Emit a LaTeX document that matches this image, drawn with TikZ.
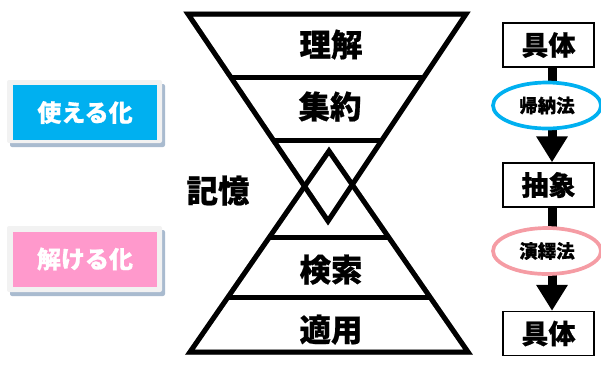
\documentclass[tikz,border=0pt]{standalone}
\usepackage{fontspec}
\newfontfamily\jp{Noto Sans CJK JP}[BoldFeatures={FakeBold=0.6}]
\usetikzlibrary{arrows.meta,shapes.geometric,calc}
\definecolor{cblue}{HTML}{00B0F0}
\definecolor{cpink}{HTML}{FF99CC}
\definecolor{cpinkline}{HTML}{F59CA4}
\definecolor{btnback}{HTML}{F2F2F2}
\definecolor{btnshadow}{HTML}{A9BBCF}
\definecolor{hgshadow}{HTML}{A8A8A8}
\tikzset{
  biglabel/.style={font=\jp\bfseries\fontsize{31.5}{31.5}\selectfont, text height=21pt, text depth=2pt, inner sep=0pt},
  stagebox/.style={draw=black, line width=1.4pt, minimum width=91pt, minimum height=44pt, inner sep=0pt,
    font=\jp\bfseries\fontsize{27}{27}\selectfont},
  methodell/.style={ellipse, line width=3.7pt, fill=white, minimum width=108pt, minimum height=46pt, inner sep=0pt,
    font=\jp\bfseries\fontsize{18.5}{18.5}\selectfont},
  flowarrow/.style={line width=9pt, -{Triangle[width=30pt,length=26pt]}},
  btn/.style={minimum width=144pt, minimum height=55pt, inner sep=0pt, text=white,
    font=\jp\bfseries\fontsize{24}{24}\selectfont}
}
\newcommand\hourglasslines{%
  \draw (TL) -- (TR) -- (TA) -- cycle;
  \draw (BA) -- (BL) -- (BR) -- cycle;
  \draw ($(TL)!0.309!(TA)$) -- ($(TR)!0.309!(TA)$);
  \draw ($(TL)!0.6087!(TA)$) -- ($(TR)!0.6087!(TA)$);
  \draw ($(BA)!0.428!(BL)$) -- ($(BA)!0.428!(BR)$);
  \draw ($(BA)!0.731!(BL)$) -- ($(BA)!0.731!(BR)$);
}
\begin{document}
\begin{tikzpicture}[x=1pt,y=-1pt]
\useasboundingbox (0,0) rectangle (601,365);
% hourglass
\coordinate (TL) at (188,14);
\coordinate (TR) at (466,14);
\coordinate (TA) at (328,221);
\coordinate (BA) at (329,151);
\coordinate (BL) at (190,352);
\coordinate (BR) at (468,352);
\begin{scope}[shift={(2,2)}, draw=hgshadow, line width=5pt]
  \hourglasslines
\end{scope}
\begin{scope}[draw=black, line width=5pt]
  \hourglasslines
\end{scope}
\node[biglabel] (rikai) at (331,47) {理解};
\node[biglabel] (shuyaku) at (330,109) {集約};
\node[biglabel] (kensaku) at (331,272) {検索};
\node[biglabel] (tekiyo) at (331,332) {適用};
\node[biglabel] (kioku) at (218,193) {記憶};
% buttons
\fill[btnshadow, rounded corners=2pt] (10,84) rectangle (165,147);
\fill[btnback, rounded corners=2pt] (7,80) rectangle (162,143);
\node[btn, fill=cblue] (tsukaeru) at (85,112.5) {使える化};
\fill[btnshadow, rounded corners=2pt] (10,230) rectangle (165,296);
\fill[btnback, rounded corners=2pt] (7,226) rectangle (162,292);
\node[btn, fill=cpink] (tokeru) at (85,259) {解ける化};
% right flow
\node[stagebox] (gutai1) at (548.5,45) {具体};
\node[stagebox] (chusho) at (548.5,185) {抽象};
\node[stagebox] (gutai2) at (548.5,333.5) {具体};
\draw[flowarrow] ([xshift=3.5pt]gutai1.south) -- ([xshift=3.5pt]chusho.north);
\draw[flowarrow] ([xshift=3.5pt]chusho.south) -- ([xshift=3.5pt]gutai2.north);
\node[methodell, draw=cblue] (kino) at (547,105.5) {帰納法};
\node[methodell, draw=cpinkline] (eneki) at (547,251) {演繹法};
\end{tikzpicture}
\end{document}
